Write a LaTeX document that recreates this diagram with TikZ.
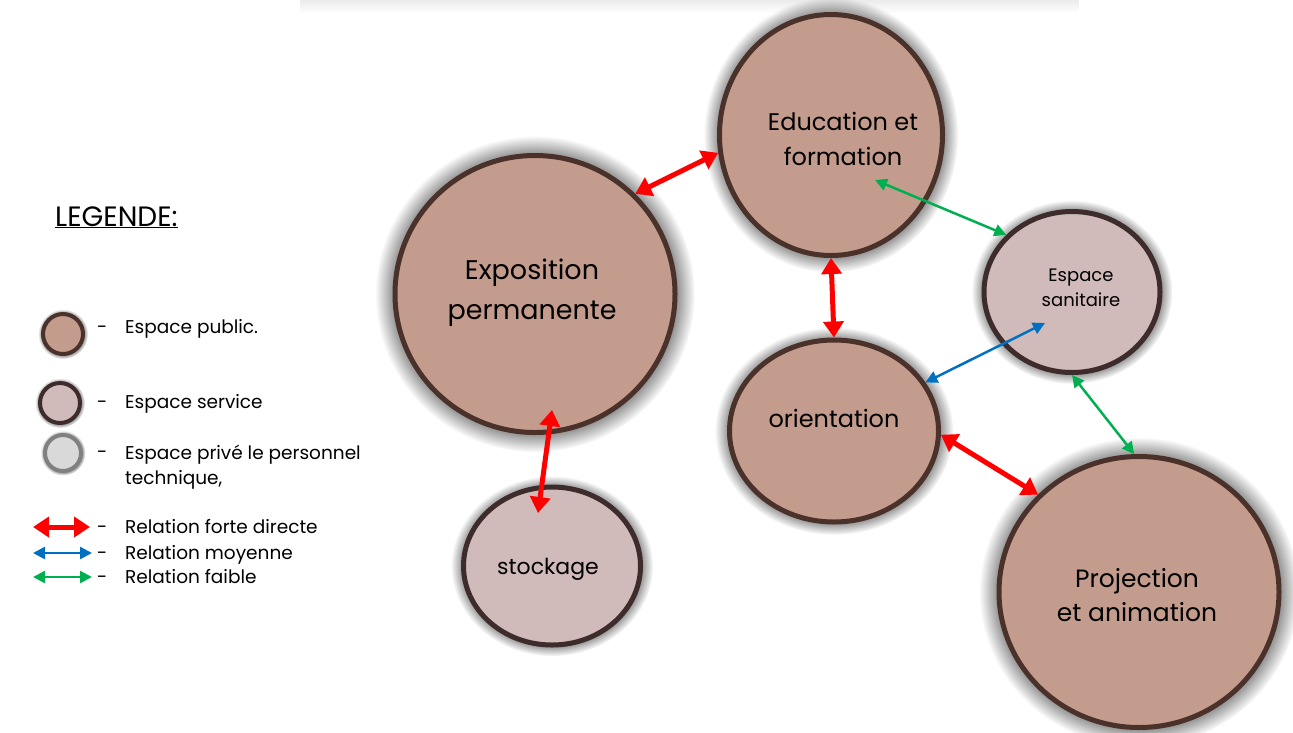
\documentclass[tikz,border=0pt]{standalone}
\usepackage{fontspec}
\setmainfont{Poppins}
\usetikzlibrary{arrows.meta,shapes.geometric,shadows,fadings}
\definecolor{Public}{HTML}{C49C8E}
\definecolor{Service}{HTML}{D0BABA}
\definecolor{Rim}{HTML}{4A3129}
\definecolor{RimDark}{HTML}{3E2C2C}
\definecolor{Private}{HTML}{D9D9D9}
\definecolor{PrivRim}{HTML}{808080}
\definecolor{Strong}{HTML}{FF0000}
\definecolor{Medium}{HTML}{0070C0}
\definecolor{Weak}{HTML}{00B050}
\tikzset{space/.style={ellipse,inner sep=0pt,line width=5pt,
    circular drop shadow={shadow xshift=0pt,shadow yshift=0pt,shadow scale=1.14,
      fill=black,opacity=0.55}},
  pubspace/.style={space,draw=Rim,fill=Public},
  servspace/.style={space,draw=RimDark,fill=Service},
  spacename/.style={align=center,inner sep=0pt,text=black},
  keydot/.style={circle,inner sep=0pt,line width=4pt,minimum size=40pt,
    circular drop shadow={shadow xshift=0pt,shadow yshift=0pt,shadow scale=1.25,
      fill=black,opacity=0.4}},
  pubdot/.style={keydot,draw=Rim,fill=Public},
  servdot/.style={keydot,draw=RimDark,fill=Service},
  privdot/.style={keydot,draw=PrivRim,fill=Private,minimum size=36pt},
  keytext/.style={anchor=west,align=left,inner sep=0pt,font=\fontsize{18.5}{25}\selectfont},
  keydash/.style={keytext,text height=13pt,text depth=5pt},
  strongedge/.style={{Triangle[length=16pt,width=20pt]}-{Triangle[length=16pt,width=20pt]},
    line width=5pt,draw=Strong},
  midedge/.style={{Triangle[length=12pt,width=12pt]}-{Triangle[length=12pt,width=12pt]},
    line width=2.5pt,draw=Medium},
  weakedge/.style={midedge,draw=Weak}}

\begin{document}
\begin{tikzpicture}[x=1pt,y=-1pt]
  \useasboundingbox (0,0) rectangle (1293,732);
  \fill[black!8,path fading=south] (300,0) rectangle (1080,13);

  % spaces
  \node[pubspace,minimum width=280pt,minimum height=277pt] (expo) at (535,294) {};
  \node[pubspace,minimum width=223pt,minimum height=241pt] (edu) at (831,135) {};
  \node[pubspace,minimum width=209pt,minimum height=182pt] (ori) at (834,431) {};
  \node[servspace,minimum width=176pt,minimum height=161pt] (san) at (1072,292) {};
  \node[servspace,minimum width=177pt,minimum height=158pt] (stock) at (552,566) {};
  \node[pubspace,minimum width=280pt,minimum height=271pt] (proj) at (1139,592) {};

  % names of the spaces
  \node[spacename,font=\fontsize{27}{40}\selectfont] (expotext) at (532,293) {Exposition\\permanente};
  \node[spacename,font=\fontsize{24}{35}\selectfont] (edutext) at (843,139) {Education et\\formation};
  \node[spacename,font=\fontsize{24}{30}\selectfont] (oritext) at (834,418) {orientation};
  \node[spacename,font=\fontsize{18}{25}\selectfont] (santext) at (1081,288) {Espace\\sanitaire};
  \node[spacename,font=\fontsize{22}{30}\selectfont] (stocktext) at (548,569) {stockage};
  \node[spacename,font=\fontsize{25}{34}\selectfont] (projtext) at (1137,595) {Projection\\et animation};

  % free ends inside the circles
  \coordinate (expotip) at (552,410);
  \coordinate (stocktip) at (538,513);
  \coordinate (edutip) at (875,180);
  \coordinate (santip) at (1045,323);

  % relations
  \draw[strongedge] (expo.45) -- (edu.189);
  \draw[strongedge] (edu.south) -- (ori.north);
  \draw[strongedge] (expotip) -- (stocktip);
  \draw[strongedge] (ori.-2) -- (proj.136);
  \draw[weakedge] (edutip) -- (san.139);
  \draw[weakedge] (san.south) -- (proj.92);
  \draw[midedge] (santip) -- (ori.28);

  % legend
  \node[anchor=base west,inner sep=0pt,font=\fontsize{28}{32}\selectfont]
    (legtitle) at (55,226) {\underline{LEGENDE:}};
  \node[pubdot] (kpub) at (63,334) {};
  \node[servdot] (kserv) at (60,403) {};
  \node[privdot] (kpriv) at (63,453) {};
  \node[keydash] (dpub) at (97,329) {-};
  \node[keydash] (dserv) at (97,404) {-};
  \node[keydash] (dpriv) at (97,454) {-};
  \node[keydash] (tpub) at (125,329) {Espace public.};
  \node[keydash] (tserv) at (125,404) {Espace service};
  \node[keytext] (tpriv) at (125,467) {Espace privé le personnel\\technique,};

  \coordinate (ka1) at (33,527); \coordinate (kb1) at (90,527);
  \coordinate (ka2) at (33,553); \coordinate (kb2) at (92,553);
  \coordinate (ka3) at (33,577); \coordinate (kb3) at (92,577);
  \draw[strongedge] (ka1) -- (kb1);
  \draw[midedge] (ka2) -- (kb2);
  \draw[weakedge] (ka3) -- (kb3);
  \node[keydash] (dstrong) at (97,529) {-};
  \node[keydash] (dmid) at (97,555) {-};
  \node[keydash] (dweak) at (97,579) {-};
  \node[keydash] (tstrong) at (125,529) {Relation forte directe};
  \node[keydash] (tmid) at (125,555) {Relation moyenne};
  \node[keydash] (tweak) at (125,579) {Relation faible};
\end{tikzpicture}
\end{document}
